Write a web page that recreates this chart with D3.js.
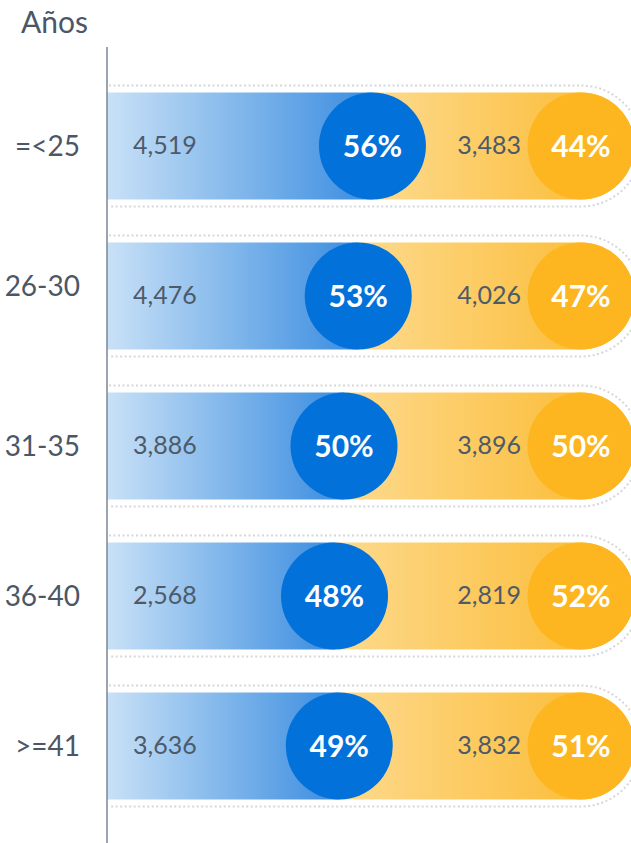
<!DOCTYPE html>
<html>
<head>
<meta charset="utf-8">
<script src="https://cdn.jsdelivr.net/npm/d3@7"></script>
<style>
  body { margin: 0; background: #fff; }
  svg { display: block; font-family: Lato, "Open Sans", sans-serif; }
</style>
</head>
<body>
<svg width="631" height="843"></svg>
<script>
var ages = ["=<25", "26-30", "31-35", "36-40", ">=41"],
    blueVals = [4519, 4476, 3886, 2568, 3636],
    yellowVals = [3483, 4026, 3896, 2819, 3832],
    bluePct = [56, 53, 50, 48, 49],
    yellowPct = [44, 47, 50, 52, 51];

var svg = d3.select("svg"),
    x0 = 107, x1 = 581,
    barH = 107, r = barH / 2, off = 7;

var x = d3.scaleLinear().domain([0, 100]).range([x0, x1]);
var y = d3.scaleBand().domain(ages).range([71, 821]);

var fmt = d3.format(",");

var defs = svg.append("defs");
var gb = defs.append("linearGradient").attr("id", "gblue");
gb.append("stop").attr("offset", "0%").attr("stop-color", "#c9e1f7");
gb.append("stop").attr("offset", "45%").attr("stop-color", "#88bbec");
gb.append("stop").attr("offset", "100%").attr("stop-color", "#3a8ce0");
var gy = defs.append("linearGradient").attr("id", "gyellow");
gy.append("stop").attr("offset", "0%").attr("stop-color", "#fdda8e");
gy.append("stop").attr("offset", "100%").attr("stop-color", "#fbb82a");

// title
svg.append("text").attr("x", 21).attr("y", 33)
  .style("font-size", "30px").style("fill", "#4b5766").text("Años");

var rows = ages.map(function(a, i) {
  return { age: a, i: i, b: blueVals[i], yv: yellowVals[i], bp: bluePct[i], yp: yellowPct[i] };
});

var row = svg.selectAll(".row").data(rows).enter().append("g")
  .attr("class", "row")
  .attr("transform", function(d) { return "translate(0," + (y(d.age) + y.bandwidth() / 2) + ")"; });

// dotted outline
row.append("path")
  .attr("d", function() {
    var R = r + off;
    return "M" + (x0 + 2) + "," + (-R) + "H" + x1 + "A" + R + "," + R + " 0 0 1 " + x1 + "," + R + "H" + (x0 + 2);
  })
  .attr("fill", "none").attr("stroke", "#d5d7db").attr("stroke-width", 2)
  .attr("stroke-dasharray", "2,2.5");

// yellow bar
row.append("path")
  .attr("d", function(d) {
    var s = x(d.bp);
    return "M" + s + "," + (-r) + "H" + x1 + "A" + r + "," + r + " 0 0 1 " + x1 + "," + r + "H" + s + "Z";
  })
  .attr("fill", "url(#gyellow)");

// blue bar
row.append("rect")
  .attr("x", x0).attr("y", -r)
  .attr("width", function(d) { return x(d.bp) - x0; })
  .attr("height", barH)
  .attr("fill", "url(#gblue)");

row.append("circle").attr("cx", function(d) { return x(d.bp); }).attr("r", r).attr("fill", "#0271da");
row.append("circle").attr("cx", x1).attr("r", r).attr("fill", "#fdb620");

// second label sits a little higher in the original
row.append("text").attr("x", 80).attr("y", function(d) { return d.i === 1 ? 0 : 10; })
  .attr("text-anchor", "end")
  .style("font-size", "28px").style("fill", "#4b5766")
  .text(function(d) { return d.age; });

row.append("text").attr("x", 133).attr("y", 8)
  .style("font-size", "25px").style("fill", "#4d5a6a")
  .text(function(d) { return fmt(d.b); });

row.append("text").attr("x", 521).attr("y", 8).attr("text-anchor", "end")
  .style("font-size", "25px").style("fill", "#4d5a6a")
  .text(function(d) { return fmt(d.yv); });

row.append("text").attr("x", function(d) { return x(d.bp); }).attr("y", 11)
  .attr("text-anchor", "middle")
  .style("font-size", "30px").style("font-weight", "bold").style("fill", "#fff")
  .text(function(d) { return d.bp + "%"; });

row.append("text").attr("x", x1).attr("y", 11)
  .attr("text-anchor", "middle")
  .style("font-size", "30px").style("font-weight", "bold").style("fill", "#fff")
  .text(function(d) { return d.yp + "%"; });

// axis line
svg.append("line").attr("x1", x0).attr("x2", x0).attr("y1", 47).attr("y2", 843)
  .attr("stroke", "#7b8696").attr("stroke-width", 1.5);
</script>
</body>
</html>
